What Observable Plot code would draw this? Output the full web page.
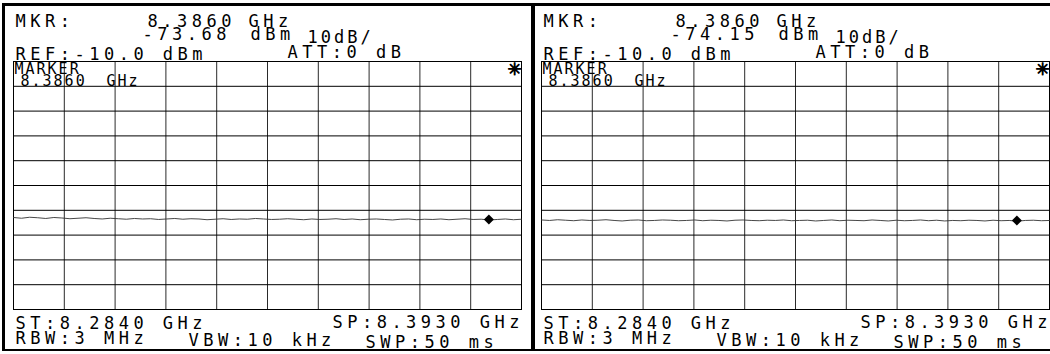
<!DOCTYPE html>
<html><head><meta charset="utf-8">
<script src="https://cdn.jsdelivr.net/npm/d3@7"></script>
<script src="https://cdn.jsdelivr.net/npm/@observablehq/plot@0.6"></script>
<style>
body{margin:0;background:#fff;}
#wrap{position:relative;width:1050px;height:354px;overflow:hidden;background:#fff;}
#wrap svg{position:absolute;top:0;}
.bar{position:absolute;background:#000;}
</style></head><body><div id="wrap"></div>
<script>
// ---- data ----
const startGHz = 8.2840, stopGHz = 8.3930;
const refDbm = -10.0, dbPerDiv = 10, divisions = 10;
const markerGHz = [8.3860, 8.3860];
const markerDbm = [-73.68, -74.15];
const traceLeft = [-72.9,-73.2,-72.8,-73.0,-73.3,-72.9,-73.1,-73.4,-73.2,-73.0,-73.3,-73.5,-73.2,-73.4,-73.6,-73.3,-73.5,-73.4,-73.7,-73.5,-73.3,-73.6,-73.4,-73.5,-73.8,-73.6,-73.4,-73.7,-73.5,-73.6,-73.3,-73.5,-73.7,-73.6,-73.4,-73.6,-73.8,-73.5,-73.7,-73.6,-73.4,-73.7,-73.5,-73.8,-73.6,-73.5,-73.7,-73.9,-73.6,-73.5,-73.8,-73.6,-73.7,-73.5,-73.8,-73.6,-73.4,-73.7,-73.6,-73.9,-73.7,-73.5,-73.8,-73.6];
const traceRight = [-73.9,-74.1,-73.8,-74.0,-74.2,-73.9,-74.1,-74.0,-73.8,-74.1,-74.3,-74.0,-73.9,-74.2,-74.1,-73.9,-74.0,-74.2,-74.1,-73.9,-74.2,-74.0,-74.1,-74.3,-74.0,-73.9,-74.1,-74.2,-74.0,-74.1,-73.9,-74.2,-74.1,-74.0,-74.3,-74.1,-73.9,-74.2,-74.0,-74.1,-74.2,-73.9,-74.1,-74.3,-74.0,-74.2,-74.1,-73.9,-74.2,-74.0,-74.3,-74.1,-74.2,-74.0,-74.1,-74.3,-74.0,-74.2,-74.1,-74.4,-74.1,-74.0,-74.2,-74.1];
const headerLeft = ["MKR:", "8.3860", "GHz", "-73.68", "dBm", "10dB/", "REF:-10.0 dBm", "ATT:0 dB"];
const headerRight = ["MKR:", "8.3860", "GHz", "-74.15", "dBm", "10dB/", "REF:-10.0 dBm", "ATT:0 dB"];
const gridLabels = ["MARKER", "8.3860", "GHz", "\u2733"];
const footerLabels = ["ST:8.2840 GHz", "SP:8.3930 GHz", "RBW:3 MHz", "VBW:10 kHz", "SWP:50 ms"];

// ---- layout (pixels, relative to plot frame) ----
const marginTop = 61, marginBottom = 45;
const headerSlots = [
  {dx: 2, top: 14, ls: 4.5}, {dx: 134, top: 14, ls: 4.5}, {dx: 235, top: 14, ls: 4.5},
  {dx: 129, top: 27, ls: 4.5}, {dx: 237, top: 27, ls: 4.5}, {dx: 294, top: 30, ls: 3},
  {dx: 2, top: 47, ls: 4.5}, {dx: 274, top: 45, ls: 4.5}
];
const gridSlots = [
  {dx: 1, top: 63, ls: 2, size: 15}, {dx: 7, top: 75, ls: 2, size: 15},
  {dx: 93, top: 75, ls: 2, size: 15},
  {dx: -7, top: 69, ls: 0, size: 17, anchor: "end", font: "DejaVu Sans", middle: true, bold: true}
];
const footerSlots = [
  {dx: 2, top: 316, ls: 4.5}, {dx: -2, top: 315, ls: 4.5, anchor: "end"},
  {dx: 2, top: 331, ls: 4.5}, {dx: 175, top: 333, ls: 4.5}, {dx: 352, top: 335, ls: 4.5}
];

function panel(trace, mkGHz, mkDbm, header, width, marginLeft, marginRight) {
  const n = trace.length;
  const pts = trace.map((v, i) => ({f: startGHz + (stopGHz - startGHz) * i / (n - 1), v}));
  const xTicks = d3.range(1, divisions).map(i => startGHz + (stopGHz - startGHz) * i / divisions);
  const yTicks = d3.range(1, divisions).map(i => refDbm - i * dbPerDiv);
  const labels = [...header, ...gridLabels, ...footerLabels];
  const slots = [...headerSlots, ...gridSlots, ...footerSlots];
  const texts = labels.map((s, i) => {
    const sl = slots[i];
    const end = sl.anchor === "end";
    return Plot.text([s], {
      text: d => d,
      frameAnchor: end ? "top-right" : "top-left",
      textAnchor: end && !sl.middle ? "end" : (sl.middle ? "middle" : "start"),
      lineAnchor: sl.middle ? "middle" : "top",
      dx: end && !sl.middle ? sl.dx + (sl.ls || 0) : sl.dx,
      dy: sl.top - marginTop,
      fill: "#000",
      stroke: sl.bold ? "#000" : "none",
      strokeWidth: sl.bold ? 0.9 : 0,
      fontSize: sl.size || 17,
      fontFamily: sl.font || "DejaVu Sans Mono"
    });
  });
  const svg = Plot.plot({
    width, height: 354, marginLeft, marginRight, marginTop, marginBottom,
    style: {background: "transparent", fontFamily: "DejaVu Sans Mono"},
    x: {domain: [startGHz, stopGHz], axis: null},
    y: {domain: [refDbm - divisions * dbPerDiv, refDbm], axis: null},
    marks: [
      Plot.ruleX(xTicks, {stroke: "#2a2a2a", strokeWidth: 1}),
      Plot.ruleY(yTicks, {stroke: "#000", strokeWidth: 1}),
      Plot.frame({stroke: "#000"}),
      Plot.line(pts, {x: "f", y: "v", stroke: "#333", strokeWidth: 0.9}),
      Plot.dot([{f: mkGHz, v: mkDbm}], {x: "f", y: "v", symbol: "diamond2", r: 4.5, fill: "#000", stroke: "none"}),
      ...texts
    ]
  });
  const tEls = svg.querySelectorAll('g[aria-label="text"] text');
  tEls.forEach((t, i) => { if (slots[i]) t.style.letterSpacing = (slots[i].ls || 0) + "px"; });
  return svg;
}

const wrap = document.getElementById("wrap");
const a = panel(traceLeft, markerGHz[0], markerDbm[0], headerLeft, 531, 13, 10);
a.style.left = "0px";
const b = panel(traceRight, markerGHz[1], markerDbm[1], headerRight, 519, 10, 1);
b.style.left = "531px";
wrap.append(a, b);
[[2, 3, 1048, 3], [2, 3, 3, 348], [531, 3, 4, 348], [2, 349, 1048, 2]].forEach(([l, t, w, h]) => {
  const d = document.createElement("div");
  d.className = "bar";
  Object.assign(d.style, {left: l + "px", top: t + "px", width: w + "px", height: h + "px"});
  wrap.append(d);
});
</script></body></html>
